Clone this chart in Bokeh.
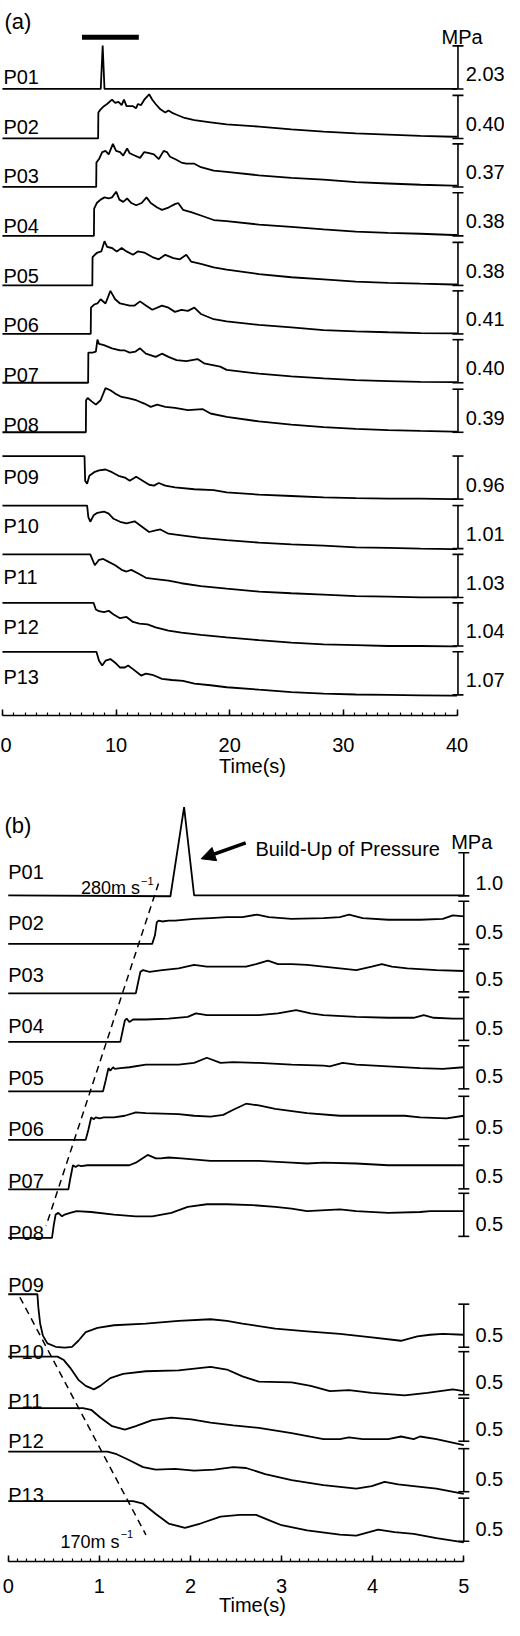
from bokeh.plotting import figure
from bokeh.layouts import column
from bokeh.models import Range1d, SingleIntervalTicker, Arrow, NormalHead
from bokeh.core.properties import value
from bokeh.embed import file_html
from bokeh.resources import INLINE

# ---------------- data ----------------
NAMES = ["P01", "P02", "P03", "P04", "P05", "P06", "P07", "P08", "P09", "P10", "P11", "P12", "P13"]

# panel (a): full-scale value of each channel's scale bar (MPa)
A_SCALE = [2.03, 0.40, 0.37, 0.38, 0.38, 0.41, 0.40, 0.39, 0.96, 1.01, 1.03, 1.04, 1.07]
# panel (b): full-scale value of each channel's scale bar (MPa)
B_SCALE = [1.0, 0.5, 0.5, 0.5, 0.5, 0.5, 0.5, 0.5, 0.5, 0.5, 0.5, 0.5, 0.5]
# time window of panel (b) shown as black bar in panel (a) (s)
B_WINDOW = [7.0, 12.0]

# panel (a) traces: time (s) / pressure (MPa)
A_P01_T = [0, 8.65, 8.82, 8.98, 40]
A_P01_P = [0, 0, 2.05, 0, 0]
A_P02_T = [0, 8.42, 8.44, 8.64, 8.93, 9.21, 9.64, 9.92, 10.21, 10.49, 10.69, 10.92, 11.49, 11.77, 11.91, 12.2, 12.48, 12.91, 13.19, 13.48, 13.9, 14.33, 14.61, 14.9, 15.33, 16.03, 16.89, 18.31, 19.73, 22.58, 25.42, 28.26, 31.1, 33.94, 36.79, 39.63, 40]
A_P02_P = [0, 0, 0.24, 0.27, 0.30, 0.32, 0.36, 0.33, 0.34, 0.31, 0.36, 0.30, 0.30, 0.28, 0.32, 0.31, 0.36, 0.41, 0.36, 0.32, 0.27, 0.24, 0.26, 0.24, 0.22, 0.19, 0.17, 0.15, 0.13, 0.11, 0.084, 0.064, 0.048, 0.036, 0.024, 0.016, 0.016]
A_P03_T = [0, 8.25, 8.27, 8.5, 8.78, 9.07, 9.35, 9.72, 10.0, 10.35, 10.63, 10.97, 11.2, 11.63, 12.11, 12.48, 12.91, 13.33, 13.76, 14.19, 14.47, 14.75, 15.18, 15.75, 16.18, 16.89, 17.46, 18.59, 19.73, 22.57, 25.42, 28.26, 31.1, 33.94, 36.79, 39.63, 40]
A_P03_P = [0, 0, 0.21, 0.24, 0.30, 0.31, 0.28, 0.37, 0.31, 0.30, 0.27, 0.33, 0.29, 0.27, 0.25, 0.30, 0.29, 0.28, 0.24, 0.31, 0.30, 0.26, 0.24, 0.21, 0.20, 0.20, 0.17, 0.14, 0.13, 0.10, 0.078, 0.063, 0.041, 0.03, 0.019, 0.011, 0.011]
A_P04_T = [0, 8.05, 8.07, 8.3, 8.64, 8.98, 9.35, 9.64, 10.01, 10.29, 10.63, 10.97, 11.34, 11.77, 12.25, 12.68, 13.05, 13.62, 14.04, 14.61, 15.18, 15.47, 15.89, 16.6, 17.46, 18.59, 19.73, 22.57, 25.42, 28.26, 31.1, 33.94, 36.79, 39.63, 40]
A_P04_P = [0, 0, 0.24, 0.29, 0.32, 0.34, 0.33, 0.34, 0.39, 0.32, 0.30, 0.33, 0.29, 0.27, 0.29, 0.34, 0.29, 0.25, 0.23, 0.25, 0.28, 0.29, 0.23, 0.21, 0.18, 0.14, 0.13, 0.10, 0.08, 0.057, 0.038, 0.027, 0.019, 0.008, 0.008]
A_P05_T = [0, 7.91, 7.93, 8.13, 8.36, 8.7, 8.98, 9.21, 9.64, 10.06, 10.49, 10.92, 11.49, 11.91, 12.48, 13.19, 13.76, 14.33, 15.04, 15.61, 16.18, 16.6, 17.46, 18.59, 19.73, 22.57, 25.42, 28.26, 31.1, 33.94, 36.79, 39.63, 40]
A_P05_P = [0, 0, 0.25, 0.27, 0.29, 0.30, 0.39, 0.34, 0.33, 0.30, 0.33, 0.30, 0.27, 0.30, 0.29, 0.25, 0.23, 0.27, 0.24, 0.23, 0.27, 0.21, 0.19, 0.16, 0.14, 0.10, 0.072, 0.053, 0.034, 0.023, 0.015, 0.008, 0.008]
A_P06_T = [0, 7.77, 7.79, 8.07, 8.36, 8.64, 9.07, 9.5, 9.92, 10.35, 11.2, 11.63, 12.11, 12.62, 13.19, 14.04, 14.61, 15.18, 15.75, 16.32, 16.89, 17.46, 18.59, 19.73, 22.57, 25.42, 28.26, 31.1, 33.94, 36.79, 39.63, 40]
A_P06_P = [0, 0, 0.25, 0.28, 0.29, 0.33, 0.29, 0.41, 0.33, 0.29, 0.27, 0.27, 0.31, 0.27, 0.23, 0.27, 0.25, 0.21, 0.23, 0.22, 0.25, 0.19, 0.14, 0.12, 0.086, 0.062, 0.037, 0.025, 0.016, 0.008, 0.006, 0.006]
A_P07_T = [0, 7.54, 7.56, 7.93, 8.22, 8.36, 8.5, 8.93, 9.64, 10.35, 10.77, 11.2, 11.71, 12.11, 12.62, 13.48, 14.04, 14.61, 15.32, 16.18, 17.17, 17.74, 19.16, 19.73, 22.57, 25.42, 28.26, 31.1, 33.94, 36.79, 39.63, 40]
A_P07_P = [0, 0, 0.28, 0.28, 0.29, 0.40, 0.36, 0.35, 0.32, 0.30, 0.30, 0.28, 0.29, 0.32, 0.27, 0.24, 0.27, 0.24, 0.21, 0.20, 0.22, 0.18, 0.15, 0.12, 0.084, 0.06, 0.04, 0.024, 0.016, 0.008, 0.006, 0.006]
A_P08_T = [0, 7.34, 7.36, 7.5, 7.85, 8.22, 8.64, 9.07, 9.5, 9.92, 10.49, 11.06, 11.77, 12.48, 13.05, 13.62, 14.33, 15.18, 16.32, 17.6, 18.31, 19.73, 22.57, 25.42, 28.26, 31.1, 33.94, 36.79, 39.63, 40]
A_P08_P = [0, 0, 0.29, 0.31, 0.28, 0.25, 0.29, 0.40, 0.38, 0.35, 0.32, 0.31, 0.29, 0.26, 0.23, 0.25, 0.23, 0.22, 0.20, 0.21, 0.17, 0.14, 0.098, 0.07, 0.047, 0.031, 0.02, 0.012, 0.006, 0.006]
A_P09_T = [0, 7.22, 7.28, 7.45, 7.65, 8.07, 8.5, 9.07, 9.64, 10.21, 10.77, 11.2, 11.77, 12.34, 12.91, 13.33, 13.76, 14.33, 15.18, 16.89, 18.59, 19.73, 22.57, 25.42, 28.26, 31.1, 33.94, 36.79, 39.63, 40]
A_P09_P = [0, 0, -0.55, -0.62, -0.44, -0.36, -0.32, -0.30, -0.36, -0.44, -0.48, -0.55, -0.46, -0.55, -0.64, -0.66, -0.60, -0.66, -0.70, -0.74, -0.76, -0.81, -0.86, -0.89, -0.92, -0.94, -0.95, -0.95, -0.96, -0.96]
A_P10_T = [0, 7.45, 7.56, 7.73, 8.02, 8.36, 8.93, 9.35, 9.78, 10.35, 10.92, 11.63, 12.34, 12.91, 13.48, 13.9, 14.61, 15.75, 17.46, 19.73, 22.57, 25.42, 28.26, 31.1, 33.94, 36.79, 39.63, 40]
A_P10_P = [0, 0, -0.27, -0.38, -0.23, -0.17, -0.14, -0.19, -0.31, -0.38, -0.42, -0.37, -0.51, -0.62, -0.58, -0.56, -0.66, -0.70, -0.76, -0.81, -0.87, -0.91, -0.94, -0.98, -0.99, -1.01, -1.02, -1.02]
A_P11_T = [0, 7.73, 7.93, 8.13, 8.5, 8.87, 9.35, 9.92, 10.49, 10.92, 11.34, 11.91, 12.62, 13.48, 14.61, 15.75, 17.46, 19.73, 22.57, 25.42, 28.26, 31.1, 33.94, 36.79, 39.63, 40]
A_P11_P = [0, 0, -0.13, -0.26, -0.13, -0.11, -0.18, -0.26, -0.37, -0.41, -0.37, -0.45, -0.56, -0.59, -0.63, -0.69, -0.76, -0.82, -0.89, -0.93, -0.96, -1.0, -1.01, -1.03, -1.03, -1.03]
A_P12_T = [0, 8.02, 8.22, 8.5, 8.93, 9.35, 9.78, 10.35, 10.92, 11.49, 12.05, 12.77, 13.48, 14.61, 15.75, 17.46, 19.73, 22.57, 25.42, 28.26, 31.1, 33.94, 36.79, 39.63, 40]
A_P12_P = [0, 0, -0.16, -0.20, -0.22, -0.19, -0.28, -0.37, -0.34, -0.46, -0.50, -0.52, -0.59, -0.67, -0.72, -0.77, -0.83, -0.90, -0.96, -1.0, -1.02, -1.04, -1.04, -1.05, -1.05]
A_P13_T = [0, 8.27, 8.5, 8.78, 9.07, 9.5, 9.92, 10.35, 10.77, 11.06, 11.49, 12.2, 12.62, 13.19, 14.04, 14.9, 15.89, 16.89, 18.31, 19.73, 22.57, 25.42, 28.26, 31.1, 33.94, 36.79, 39.63, 40]
A_P13_P = [0, 0, -0.22, -0.34, -0.22, -0.18, -0.27, -0.39, -0.39, -0.34, -0.43, -0.59, -0.54, -0.57, -0.67, -0.70, -0.72, -0.79, -0.83, -0.88, -0.94, -1.0, -1.04, -1.06, -1.07, -1.08, -1.09, -1.09]

# panel (b) traces: time (s) / pressure (MPa)
B_P01_T = [0, 1.78, 1.93, 2.04, 5.0]
B_P01_P = [0, -0.02, 2.05, 0, 0]
B_P02_T = [0, 1.58, 1.61, 1.63, 1.65, 1.69, 1.76, 1.83, 2.04, 2.22, 2.40, 2.57, 2.73, 2.86, 3.11, 3.46, 3.64, 3.74, 3.89, 4.17, 4.52, 4.77, 4.88, 5.0]
B_P02_P = [0, 0, 0.10, 0.25, 0.27, 0.26, 0.27, 0.27, 0.29, 0.30, 0.31, 0.31, 0.34, 0.31, 0.29, 0.30, 0.31, 0.34, 0.30, 0.28, 0.28, 0.29, 0.33, 0.32]
B_P03_T = [0, 1.40, 1.42, 1.45, 1.48, 1.55, 1.69, 1.87, 2.04, 2.18, 2.40, 2.61, 2.72, 2.85, 2.96, 3.11, 3.28, 3.46, 3.82, 3.99, 4.10, 4.21, 4.38, 4.70, 5.0]
B_P03_P = [0, 0, 0.10, 0.25, 0.27, 0.25, 0.27, 0.29, 0.33, 0.31, 0.31, 0.31, 0.34, 0.38, 0.34, 0.34, 0.33, 0.31, 0.27, 0.31, 0.34, 0.31, 0.29, 0.27, 0.26]
B_P04_T = [0, 1.23, 1.25, 1.28, 1.30, 1.33, 1.37, 1.51, 1.76, 1.97, 2.06, 2.18, 2.40, 2.75, 2.96, 3.16, 3.32, 3.46, 3.82, 4.17, 4.45, 4.56, 4.67, 4.88, 5.0]
B_P04_P = [0, 0, 0.10, 0.25, 0.27, 0.23, 0.26, 0.26, 0.27, 0.29, 0.33, 0.31, 0.31, 0.31, 0.33, 0.37, 0.33, 0.31, 0.29, 0.28, 0.28, 0.31, 0.28, 0.27, 0.27]
B_P05_T = [0, 1.04, 1.07, 1.10, 1.12, 1.15, 1.17, 1.23, 1.33, 1.51, 1.87, 2.04, 2.18, 2.33, 2.47, 2.75, 3.11, 3.46, 3.53, 3.67, 3.82, 4.17, 4.52, 4.77, 5.0]
B_P05_P = [0, 0, 0.13, 0.27, 0.24, 0.28, 0.26, 0.27, 0.28, 0.31, 0.31, 0.33, 0.39, 0.33, 0.34, 0.33, 0.31, 0.30, 0.29, 0.33, 0.31, 0.29, 0.27, 0.26, 0.28]
B_P06_T = [0, 0.85, 0.88, 0.91, 0.94, 0.96, 1.0, 1.05, 1.16, 1.28, 1.40, 1.51, 1.87, 2.04, 2.22, 2.36, 2.47, 2.61, 2.75, 2.93, 3.28, 3.64, 3.99, 4.35, 4.52, 4.81, 5.0]
B_P06_P = [0, 0, 0.12, 0.26, 0.24, 0.26, 0.25, 0.26, 0.26, 0.28, 0.32, 0.31, 0.30, 0.28, 0.27, 0.29, 0.35, 0.42, 0.40, 0.36, 0.31, 0.28, 0.28, 0.28, 0.26, 0.25, 0.28]
B_P07_T = [0, 0.66, 0.68, 0.71, 0.74, 0.77, 0.80, 0.87, 0.98, 1.16, 1.33, 1.40, 1.53, 1.62, 1.67, 1.76, 1.90, 2.22, 2.75, 3.11, 3.28, 3.46, 3.82, 4.17, 4.52, 5.0]
B_P07_P = [0, 0, 0.12, 0.28, 0.26, 0.28, 0.27, 0.28, 0.28, 0.28, 0.28, 0.31, 0.40, 0.36, 0.36, 0.37, 0.36, 0.33, 0.33, 0.31, 0.30, 0.31, 0.30, 0.28, 0.28, 0.28]
B_P08_T = [0, 0.48, 0.50, 0.52, 0.55, 0.59, 0.62, 0.68, 0.75, 0.91, 1.16, 1.40, 1.58, 1.79, 1.97, 2.18, 2.40, 2.68, 2.93, 3.11, 3.28, 3.64, 3.82, 4.17, 4.52, 4.63, 5.0]
B_P08_P = [0, 0, 0.15, 0.27, 0.29, 0.25, 0.27, 0.29, 0.31, 0.30, 0.27, 0.25, 0.25, 0.29, 0.36, 0.39, 0.39, 0.38, 0.36, 0.34, 0.31, 0.33, 0.31, 0.29, 0.30, 0.31, 0.31]
B_P09_T = [0, 0.32, 0.33, 0.35, 0.38, 0.43, 0.52, 0.62, 0.70, 0.77, 0.85, 0.98, 1.16, 1.51, 1.87, 2.22, 2.40, 2.57, 2.93, 3.28, 3.64, 3.99, 4.31, 4.49, 4.63, 4.77, 5.0]
B_P09_P = [0, 0, -0.15, -0.34, -0.48, -0.57, -0.61, -0.62, -0.61, -0.54, -0.44, -0.39, -0.36, -0.34, -0.31, -0.29, -0.31, -0.34, -0.40, -0.43, -0.46, -0.50, -0.54, -0.49, -0.47, -0.46, -0.47]
B_P10_T = [0, 0.54, 0.61, 0.68, 0.77, 0.85, 0.94, 1.01, 1.12, 1.26, 1.51, 1.87, 2.22, 2.40, 2.57, 2.75, 3.11, 3.32, 3.53, 3.74, 3.99, 4.35, 4.60, 4.88, 5.0]
B_P10_P = [0, 0, -0.04, -0.13, -0.27, -0.34, -0.38, -0.34, -0.25, -0.20, -0.17, -0.16, -0.12, -0.15, -0.23, -0.29, -0.30, -0.34, -0.40, -0.39, -0.42, -0.45, -0.42, -0.38, -0.40]
B_P11_T = [0, 0.82, 0.91, 1.01, 1.14, 1.28, 1.40, 1.58, 1.79, 2.01, 2.22, 2.47, 2.75, 3.11, 3.46, 3.64, 3.74, 3.89, 4.17, 4.31, 4.45, 4.52, 4.70, 5.0]
B_P11_P = [0, 0, -0.02, -0.11, -0.21, -0.25, -0.21, -0.14, -0.11, -0.13, -0.17, -0.20, -0.23, -0.29, -0.36, -0.36, -0.34, -0.36, -0.36, -0.33, -0.36, -0.33, -0.36, -0.43]
B_P12_T = [0, 1.09, 1.19, 1.33, 1.48, 1.62, 1.83, 2.04, 2.26, 2.47, 2.61, 2.82, 3.11, 3.46, 3.82, 3.99, 4.13, 4.28, 4.45, 4.70, 5.0]
B_P12_P = [0, 0, -0.03, -0.10, -0.18, -0.21, -0.20, -0.22, -0.21, -0.18, -0.19, -0.26, -0.33, -0.39, -0.43, -0.40, -0.35, -0.38, -0.40, -0.43, -0.49]
B_P13_T = [0, 1.37, 1.48, 1.62, 1.76, 1.94, 2.11, 2.33, 2.54, 2.72, 2.86, 3.0, 3.28, 3.64, 3.82, 3.96, 4.06, 4.24, 4.45, 4.70, 5.0]
B_P13_P = [0, 0, -0.03, -0.15, -0.26, -0.31, -0.26, -0.18, -0.16, -0.16, -0.22, -0.28, -0.34, -0.39, -0.40, -0.36, -0.33, -0.36, -0.38, -0.43, -0.48]

A_T = [A_P01_T, A_P02_T, A_P03_T, A_P04_T, A_P05_T, A_P06_T, A_P07_T, A_P08_T, A_P09_T, A_P10_T, A_P11_T, A_P12_T, A_P13_T]
A_P = [A_P01_P, A_P02_P, A_P03_P, A_P04_P, A_P05_P, A_P06_P, A_P07_P, A_P08_P, A_P09_P, A_P10_P, A_P11_P, A_P12_P, A_P13_P]
B_T = [B_P01_T, B_P02_T, B_P03_T, B_P04_T, B_P05_T, B_P06_T, B_P07_T, B_P08_T, B_P09_T, B_P10_T, B_P11_T, B_P12_T, B_P13_T]
B_P = [B_P01_P, B_P02_P, B_P03_P, B_P04_P, B_P05_P, B_P06_P, B_P07_P, B_P08_P, B_P09_P, B_P10_P, B_P11_P, B_P12_P, B_P13_P]

# ---------------- layout (vertical positions in a px-like layout unit) ----------------
BAR = 43.5
A_ZERO = [89.3, 139.3, 188.3, 237.7, 287.7, 336.7, 386.0, 436.0, 460.0, 510.0, 559.3, 608.3, 657.7]
A_LABEL_Y = [77.6, 127.6, 177.6, 228, 278, 328, 378, 429, 481, 531, 582, 633, 683]
B_ZERO = [904, 953, 1003, 1052, 1102, 1151, 1201, 1250, 1307, 1370, 1422, 1466, 1516]
B_BAR_TOP = [861, 910, 958, 1007, 1056, 1107, 1157, 1205, 1317, 1365, 1412, 1463, 1513]
B_LABEL_Y = [880, 932, 984, 1036, 1088, 1140, 1193, 1245, 1298, 1365, 1415, 1455, 1510]

FONT = "Liberation Sans"
FS = "20px"
LW = 1.8


def ax(px):
    return (px - 2.0) / 11.725


def bx(px):
    return (px - 8.0) / 94.0


def make_fig(height, bottom, xr, yr, interval, bounds):
    p = figure(width=504, height=height, x_range=xr, y_range=yr,
               output_backend="svg", toolbar_location=None, y_axis_location=None,
               min_border_left=0, min_border_right=0, min_border_top=0,
               min_border_bottom=bottom)
    p.xgrid.visible = False
    p.ygrid.visible = False
    p.outline_line_color = None
    p.background_fill_color = "white"
    p.border_fill_color = "white"
    xa = p.xaxis[0]
    xa.ticker = SingleIntervalTicker(interval=interval, num_minor_ticks=10)
    xa.bounds = bounds
    xa.axis_line_width = 1.5
    xa.axis_line_color = "black"
    xa.major_tick_line_width = 1.5
    xa.minor_tick_line_width = 1.2
    xa.major_tick_line_color = "black"
    xa.minor_tick_line_color = "black"
    xa.major_tick_in = 6
    xa.major_tick_out = 0
    xa.minor_tick_in = 3
    xa.minor_tick_out = 0
    xa.major_label_text_font = FONT
    xa.major_label_text_font_size = FS
    xa.major_label_text_color = "black"
    xa.axis_label = "Time(s)"
    xa.axis_label_text_font = FONT
    xa.axis_label_text_font_size = FS
    xa.axis_label_text_font_style = "normal"
    xa.axis_label_text_color = "black"
    return p


def txt(p, x, y, s, size=FS, align="left"):
    p.text(x=[x], y=[y], text=[s], text_font=value(FONT), text_font_size=size,
           text_color="black", text_align=align, text_baseline="alphabetic")


# ---------------- panel (a) ----------------
pa = make_fig(787, 72, Range1d(ax(0), ax(520)), Range1d(722, 0), 10, (0, 40))
pa.xaxis[0].major_label_standoff = 22
pa.xaxis[0].axis_label_standoff = 0

for k in range(13):
    ys = [A_ZERO[k] - v / A_SCALE[k] * BAR for v in A_P[k]]
    pa.line(A_T[k], ys, line_width=LW, line_color="black")
    top = A_ZERO[k] - BAR if k < 8 else A_ZERO[k]
    bot = top + BAR
    xb = ax(472)
    pa.segment(x0=[xb], y0=[top], x1=[xb], y1=[bot], line_width=1.6, line_color="black")
    pa.scatter(x=[xb, xb], y=[top, bot], marker="dash", size=11, line_width=1.6, line_color="black")
    txt(pa, ax(480), (top + bot) / 2 + 7, f"{A_SCALE[k]:.2f}")
    txt(pa, ax(3), A_LABEL_Y[k], NAMES[k])

pa.line(B_WINDOW, [37, 37], line_width=5, line_color="black", line_cap="butt")
txt(pa, ax(4), 21, "(a)", size="22px")
txt(pa, ax(455), 37, "MPa")

# ---------------- panel (b) ----------------
pb = make_fig(833, 59, Range1d(bx(0), bx(520)), Range1d(1577, 795), 1, (0, 5))
pb.xaxis[0].major_label_standoff = 17
pb.xaxis[0].axis_label_standoff = -2

for k in range(13):
    ys = [B_ZERO[k] - v / B_SCALE[k] * BAR for v in B_P[k]]
    pb.line(B_T[k], ys, line_width=LW, line_color="black")
    top = B_BAR_TOP[k]
    bot = top + BAR
    xb = bx(478)
    pb.segment(x0=[xb], y0=[top], x1=[xb], y1=[bot], line_width=1.6, line_color="black")
    pb.scatter(x=[xb, xb], y=[top, bot], marker="dash", size=11, line_width=1.6, line_color="black")
    txt(pb, bx(490), (top + bot) / 2 + 9, f"{B_SCALE[k]:.1f}")
    txt(pb, bx(8), B_LABEL_Y[k], NAMES[k])

# propagation-speed guide lines
pb.line([bx(163), bx(47)], [892, 1238], line_width=1.5, line_color="black", line_dash="7 5")
pb.line([bx(20), bx(150)], [1310, 1550], line_width=1.5, line_color="black", line_dash="7 5")
txt(pb, bx(83), 897, "280m s", size="18px")
txt(pb, bx(145), 889, "\u22121", size="11px")
txt(pb, bx(62), 1557, "170m s", size="18px")
txt(pb, bx(124), 1549, "\u22121", size="11px")

txt(pb, bx(4), 833, "(b)", size="22px")
txt(pb, bx(465), 850, "MPa")
txt(pb, bx(263), 857, "Build-Up of Pressure")
pb.add_layout(Arrow(end=NormalHead(size=14, fill_color="black", line_color="black"),
                    x_start=bx(253), y_start=851, x_end=bx(207), y_end=867,
                    line_width=3.5, line_color="black"))

layout = column(pa, pb)
open("out.html", "w").write(file_html(layout, INLINE))
